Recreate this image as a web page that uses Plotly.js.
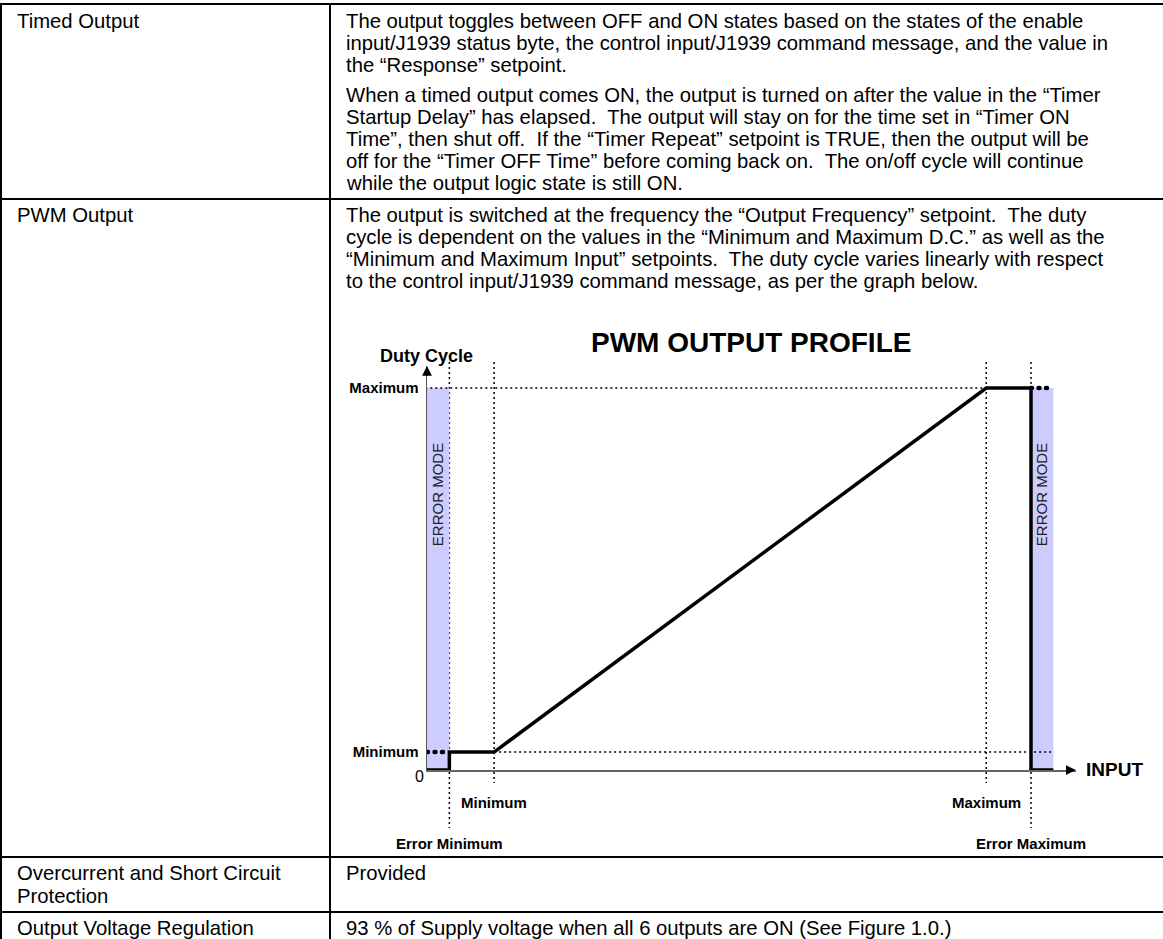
<!DOCTYPE html>
<html>
<head>
<meta charset="utf-8">
<script src="https://cdn.plot.ly/plotly-3.0.1.min.js"></script>
<style>html,body{margin:0;padding:0;background:#fff;}#chart{width:1163px;height:939px;}</style>
</head>
<body>
<div id="chart"></div>
<script>
// ---------- data ----------
const rowLabels = [
  ["Timed Output"],
  ["PWM Output"],
  ["Overcurrent and Short Circuit", "Protection"],
  ["Output Voltage Regulation"]
];
const timedParagraph1 = [
  "The output toggles between OFF and ON states based on the states of the enable",
  "input/J1939 status byte, the control input/J1939 command message, and the value in",
  "the \u201cResponse\u201d setpoint."
];
const timedParagraph2 = [
  "When a timed output comes ON, the output is turned on after the value in the \u201cTimer",
  "Startup Delay\u201d has elapsed.\u00a0 The output will stay on for the time set in \u201cTimer ON",
  "Time\u201d, then shut off.\u00a0 If the \u201cTimer Repeat\u201d setpoint is TRUE, then the output will be",
  "off for the \u201cTimer OFF Time\u201d before coming back on.\u00a0 The on/off cycle will continue",
  "while the output logic state is still ON."
];
const pwmParagraph = [
  "The output is switched at the frequency the \u201cOutput Frequency\u201d setpoint.\u00a0 The duty",
  "cycle is dependent on the values in the \u201cMinimum and Maximum D.C.\u201d as well as the",
  "\u201cMinimum and Maximum Input\u201d setpoints.\u00a0 The duty cycle varies linearly with respect",
  "to the control input/J1939 command message, as per the graph below."
];
const protectionText = ["Provided"];
const regulationText = ["93 % of Supply voltage when all 6 outputs are ON (See Figure 1.0.)"];

const chartTitle = "PWM OUTPUT PROFILE";
const yAxisName = "Duty Cycle";
const xAxisName = "INPUT";
const errorModeText = "ERROR MODE";

// input set-points (x) and duty-cycle levels (y)
const inputNames  = ["Error Minimum", "Minimum", "Maximum", "Error Maximum"];
const inputValues = [1, 3, 25, 27];
const dutyNames   = ["Minimum", "Maximum"];
const dutyValues  = [4.7, 100];
// output profile
const profileInput = [0, 1, 1, 3, 25, 27, 27, 28];
const profileDuty  = [0, 0, 4.7, 4.7, 100, 100, 0, 0];
// error-mode bands
const bandStart = [0, 27];
const bandEnd   = [1, 28];
// held outputs inside error bands
const holdLeftInput  = [0, 1];
const holdLeftDuty   = [4.7, 4.7];
const holdRightInput = [27, 28];
const holdRightDuty  = [100, 100];

// ---------- layout helpers ----------
const W = 1163, H = 939;
const FONT = "Liberation Sans, Arial, sans-serif";
const px = x => x / W;
const py = y => 1 - y / H;
const mid = (baseline, fs) => py(baseline - 0.3465 * fs);

const annotations = [];
const shapes = [];

function textLine(str, xLeft, baseline, fs, opts) {
  annotations.push(Object.assign({
    text: str, xref: "paper", yref: "paper", x: px(xLeft - 1), y: mid(baseline, fs),
    xanchor: "left", yanchor: "middle", showarrow: false,
    font: {family: FONT, size: fs, color: "#000"}
  }, opts || {}));
}

// ---------- table ----------
const BODY = 20.3, LS = 22;
const LEFT_X = 16, RIGHT_X = 345;
const border = (x0, y0, x1, y1) => shapes.push({type: "line", xref: "paper", yref: "paper",
  x0: px(x0), y0: py(y0), x1: px(x1), y1: py(y1), line: {color: "#000", width: 2}, layer: "above"});
border(0, 4, W, 4);
border(1, 4, 1, H);
border(330, 4, 330, H);
border(0, 199, W, 199);
border(0, 857, W, 857);
border(0, 912, W, 912);

// row 1
let b = 28;
textLine(rowLabels[0][0], LEFT_X, b, BODY);
timedParagraph1.forEach((t, i) => textLine(t, RIGHT_X, b + i * LS, BODY));
b = 102;
timedParagraph2.forEach((t, i) => textLine(t, RIGHT_X, b + i * LS, BODY));
// row 2
b = 222;
textLine(rowLabels[1][0], LEFT_X, b, BODY);
pwmParagraph.forEach((t, i) => textLine(t, RIGHT_X, b + i * LS, BODY));
// row 3
b = 880;
rowLabels[2].forEach((t, i) => textLine(t, LEFT_X, b + i * 23, BODY));
textLine(protectionText[0], RIGHT_X, b, BODY);
// row 4
b = 935;
textLine(rowLabels[3][0], LEFT_X, b, BODY);
textLine(regulationText[0], RIGHT_X, b, BODY);

// ---------- chart ----------
const X0 = 427, X_ERRMAX = 1031;
const unitX = (X_ERRMAX - X0) / inputValues[3];
const xRangeMax = 29;
const Y0 = 770, Y_MAX = 388;
const unitY = (Y0 - Y_MAX) / dutyValues[1];
const yTopPx = 366;
const yRangeMax = (Y0 - yTopPx) / unitY;

// title & axis names
annotations.push({text: "<b>" + chartTitle + "</b>", xref: "paper", yref: "paper",
  x: px(751), y: mid(352, 28), xanchor: "center", yanchor: "middle", showarrow: false,
  font: {family: FONT, size: 28, color: "#000"}});
textLine("<b>" + yAxisName + "</b>", 379, 362, 18);
textLine("<b>" + xAxisName + "</b>", 1085, 776, 19);
annotations.push({text: "0", xref: "paper", yref: "paper", x: px(426), y: py(776),
  xanchor: "right", yanchor: "middle", showarrow: false, font: {family: FONT, size: 16, color: "#000"}});

// error bands
bandStart.forEach((s, i) => {
  shapes.push({type: "rect", xref: "x", yref: "y", x0: s, x1: bandEnd[i], y0: 0, y1: dutyValues[1],
    fillcolor: "#ccccff", line: {width: 0}, layer: "below"});
  annotations.push({text: errorModeText, xref: "x", yref: "paper", x: (s + bandEnd[i]) / 2, y: py(495),
    textangle: -90, showarrow: false, xanchor: "center", yanchor: "middle",
    font: {family: FONT, size: 15, color: "#222"}});
});

// dotted guide lines
const dotted = {color: "#000", width: 1.5, dash: "2px,3px"};
inputValues.forEach((v, i) => {
  const isErr = inputNames[i].startsWith("Error");
  const bottom = isErr ? 828 : 783;
  shapes.push({type: "line", xref: "x", yref: "paper", x0: v, x1: v, y0: py(362), y1: py(bottom),
    line: dotted, layer: "below"});
  annotations.push({text: "<b>" + inputNames[i] + "</b>", xref: "x", yref: "paper", x: v,
    y: mid(isErr ? 849 : 808, 15), xanchor: "center", yanchor: "middle", showarrow: false,
    font: {family: FONT, size: 15, color: "#000"}});
});
shapes.push({type: "line", xref: "x", yref: "y", x0: -0.3, x1: inputValues[2], y0: dutyValues[1], y1: dutyValues[1],
  line: dotted, layer: "below"});
shapes.push({type: "line", xref: "x", yref: "y", x0: inputValues[1], x1: bandEnd[1], y0: dutyValues[0], y1: dutyValues[0],
  line: dotted, layer: "below"});

// axis arrows
annotations.push({text: "", x: xRangeMax, y: 0, ax: xRangeMax - 0.5, ay: 0, xref: "x", yref: "y",
  axref: "x", ayref: "y", showarrow: true, arrowhead: 2, arrowsize: 1.3, arrowwidth: 1.5, arrowcolor: "#000"});
annotations.push({text: "", x: 0, y: yRangeMax, ax: 0, ay: yRangeMax - 3, xref: "x", yref: "y",
  axref: "x", ayref: "y", showarrow: true, arrowhead: 2, arrowsize: 1.3, arrowwidth: 1.5, arrowcolor: "#000"});

const traces = [
  {x: profileInput, y: profileDuty, type: "scatter", mode: "lines", cliponaxis: false,
   line: {color: "#000", width: 3.5}, hoverinfo: "skip"},
  {x: holdLeftInput, y: holdLeftDuty, type: "scatter", mode: "lines", cliponaxis: false,
   line: {color: "#000", width: 4.5, dash: "1px,6.5px"}, hoverinfo: "skip"},
  {x: holdRightInput, y: holdRightDuty, type: "scatter", mode: "lines", cliponaxis: false,
   line: {color: "#000", width: 4.5, dash: "1px,6.5px"}, hoverinfo: "skip"}
];

const layout = {
  width: W, height: H,
  margin: {l: 0, r: 0, t: 0, b: 0, pad: 0},
  paper_bgcolor: "#fff", plot_bgcolor: "rgba(0,0,0,0)",
  showlegend: false,
  font: {family: FONT, color: "#000"},
  xaxis: {
    domain: [px(X0), px(X0 + xRangeMax * unitX)], range: [0, xRangeMax],
    showgrid: false, zeroline: false, showline: true, linecolor: "#666", linewidth: 1.5,
    showticklabels: false, ticks: "", fixedrange: true
  },
  yaxis: {
    domain: [py(Y0), py(yTopPx)], range: [0, yRangeMax],
    showgrid: false, zeroline: false, showline: true, linecolor: "#555", linewidth: 1.5,
    ticks: "", tickvals: dutyValues, ticktext: dutyNames.map(n => "<b>" + n + "</b>"),
    tickfont: {family: FONT, size: 15, color: "#000"}, ticklabelstandoff: 4, fixedrange: true
  },
  shapes: shapes,
  annotations: annotations
};

Plotly.newPlot("chart", traces, layout, {displayModeBar: false, staticPlot: true}).then(gd => {
  gd.querySelectorAll(".scatterlayer .trace:not(:first-child) path.js-line").forEach(p => {
    p.style.strokeLinecap = "round";
  });
});
</script>
</body>
</html>
